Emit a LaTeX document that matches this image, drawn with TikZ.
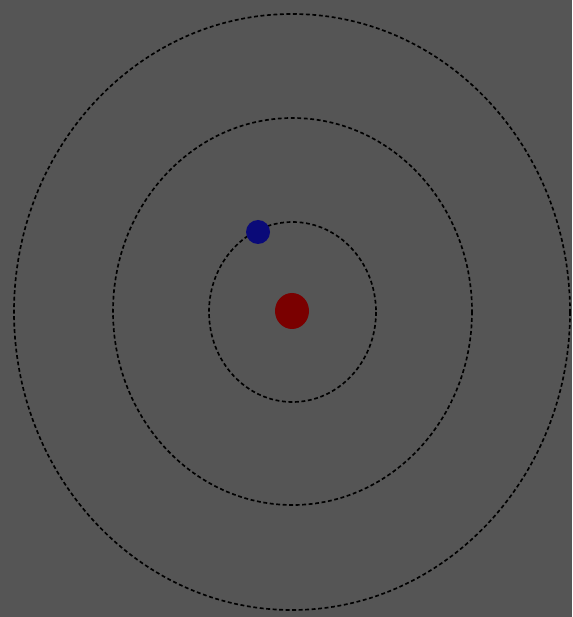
\documentclass[tikz,border=0pt]{standalone}
\usepackage{xcolor}
\usepackage{tikz}
\definecolor{bgGray}{HTML}{555555}
\definecolor{nucleusRed}{HTML}{7A0000}
\definecolor{electronBlue}{HTML}{0A0A78}

\begin{document}
\begin{tikzpicture}[x=0.02cm, y=-0.02cm,
  orbit/.style={draw=black, line width=0.95pt, dash pattern=on 2.2pt off 1.5pt}]

% Background
\fill[bgGray] (0,0) rectangle (572,617);
\useasboundingbox (0,0) rectangle (572,617);

% Orbits
\draw[orbit] (292,312) ellipse [x radius=278, y radius=298];
\draw[orbit] (292.5,311.5) ellipse [x radius=179.5, y radius=193.5];
\draw[orbit] (292.5,312) ellipse [x radius=83.5, y radius=90];

% Nucleus
\fill[nucleusRed] (292,311) ellipse [x radius=17, y radius=18];

% Electron
\fill[electronBlue] (258,232) circle (12);

\end{tikzpicture}
\end{document}
